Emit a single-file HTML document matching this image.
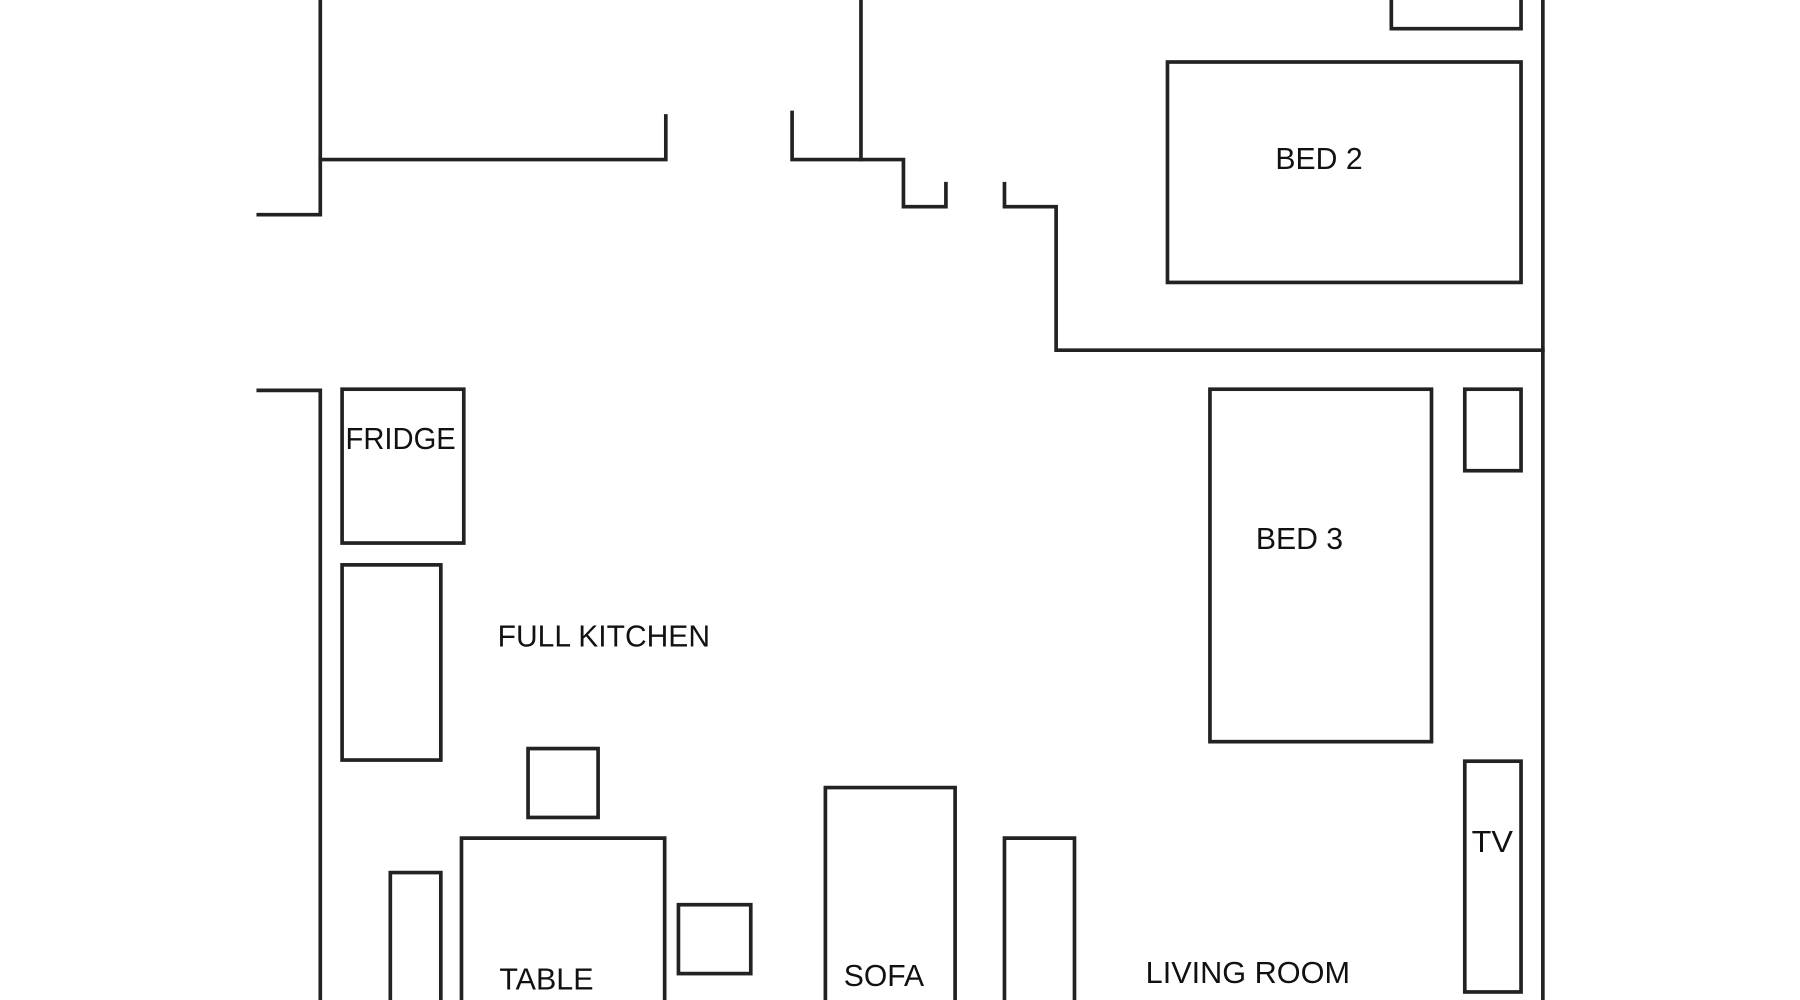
<!DOCTYPE html>
<html><head><meta charset="utf-8"><style>html,body{margin:0;padding:0;background:#fff}svg{display:block}</style></head>
<body>
<svg width="1800" height="1000" viewBox="0 0 1568 871" preserveAspectRatio="none" xmlns="http://www.w3.org/2000/svg">
<g fill="none" stroke="#222" stroke-width="3.2" stroke-linecap="square" stroke-linejoin="miter">
<polyline points="279,0 279,187 225,187"/>
<polyline points="279,139 580,139 580,101"/>
<polyline points="690,98 690,139 787,139 787,180 824,180 824,160"/>
<line x1="750" y1="0" x2="750" y2="139"/>
<polyline points="875,160 875,180 920,180 920,305 1344,305"/>
<line x1="1344" y1="0" x2="1344" y2="871"/>
<polyline points="1212,0 1212,25 1325,25 1325,0"/>
<rect x="1017" y="54" width="308" height="192"/>
<polyline points="225,340 279,340 279,871"/>
<rect x="298" y="339" width="106" height="134"/>
<rect x="298" y="492" width="86" height="170"/>
<rect x="460" y="652" width="61" height="60"/>
<polyline points="402,871 402,730 579,730 579,871"/>
<polyline points="340,871 340,760 384,760 384,871"/>
<rect x="591" y="788" width="63" height="60"/>
<polyline points="719,871 719,686 832,686 832,871"/>
<polyline points="875,871 875,730 936,730 936,871"/>
<rect x="1054" y="339" width="193" height="307"/>
<rect x="1276" y="339" width="49" height="71"/>
<rect x="1276" y="663" width="49" height="201"/>
</g>
<g font-family="Liberation Sans, sans-serif" font-size="27" fill="#111" text-anchor="middle">
<text x="1149" y="147" textLength="76" lengthAdjust="spacingAndGlyphs">BED 2</text>
<text x="349" y="391" textLength="96" lengthAdjust="spacingAndGlyphs">FRIDGE</text>
<text x="526" y="563" textLength="185" lengthAdjust="spacingAndGlyphs">FULL KITCHEN</text>
<text x="1132" y="478" textLength="76" lengthAdjust="spacingAndGlyphs">BED 3</text>
<text x="1300" y="742" textLength="36" lengthAdjust="spacingAndGlyphs">TV</text>
<text x="476" y="862" textLength="82" lengthAdjust="spacingAndGlyphs">TABLE</text>
<text x="770" y="859" textLength="70" lengthAdjust="spacingAndGlyphs">SOFA</text>
<text x="1087" y="856" textLength="178" lengthAdjust="spacingAndGlyphs">LIVING ROOM</text>
</g>
</svg>
</body></html>
